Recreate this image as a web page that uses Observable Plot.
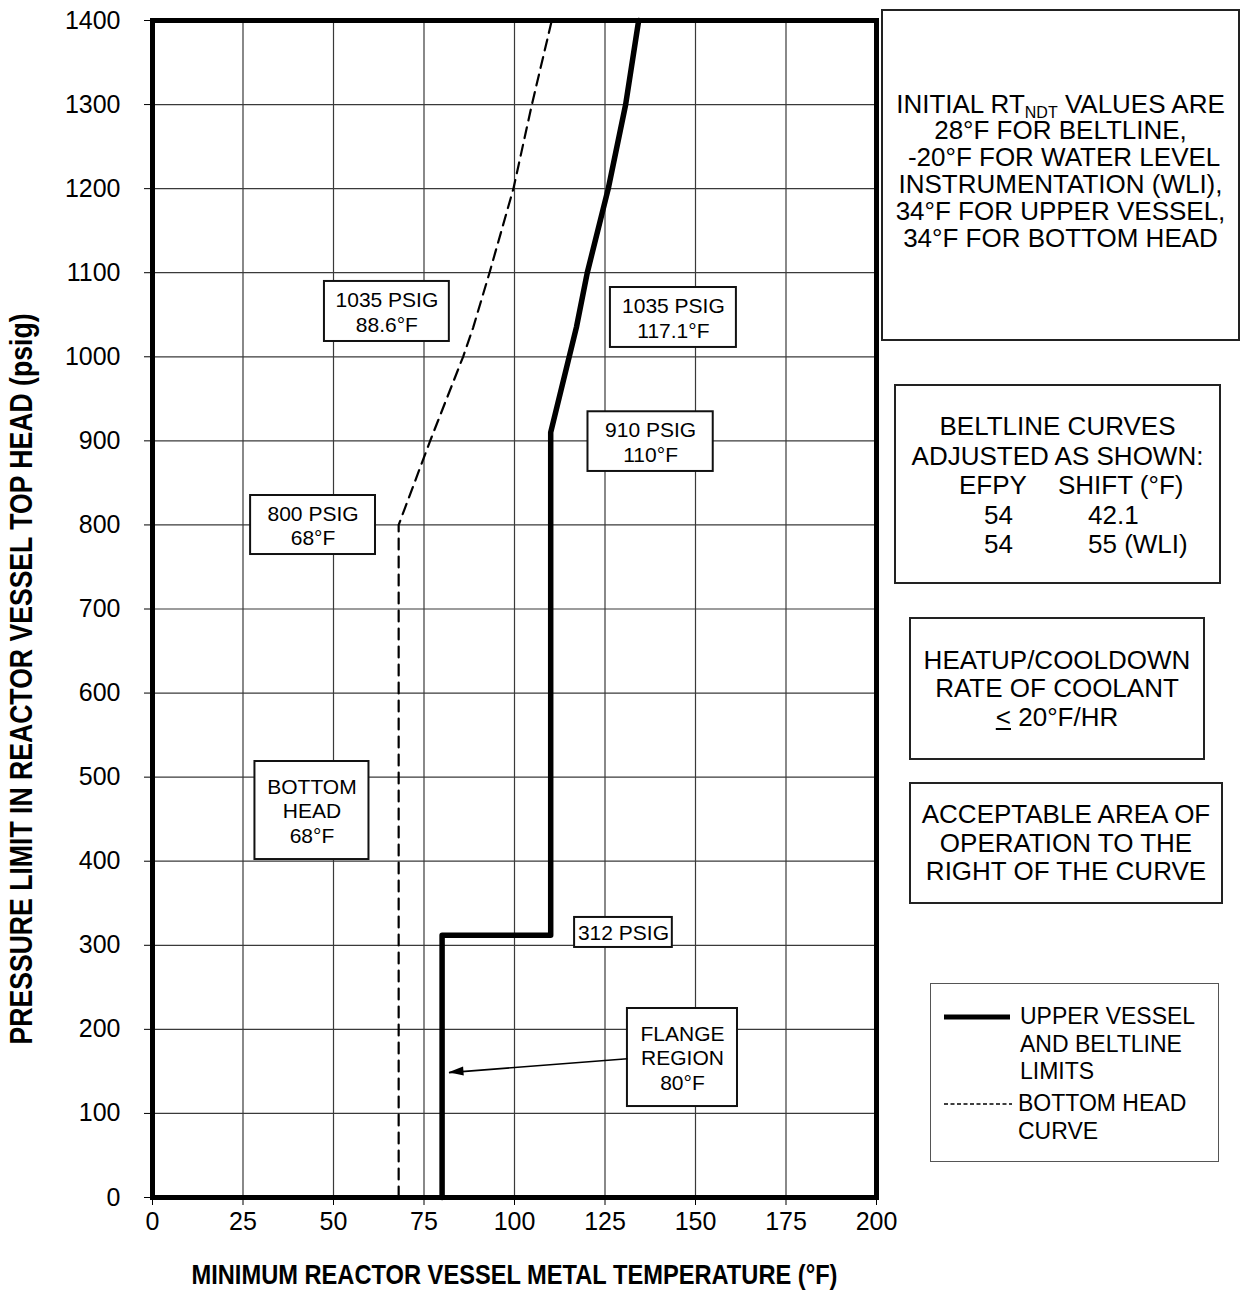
<!DOCTYPE html>
<html>
<head>
<meta charset="utf-8">
<script src="https://cdn.jsdelivr.net/npm/d3@7"></script>
<script src="https://cdn.jsdelivr.net/npm/@observablehq/plot@0.6"></script>
<style>
  html, body { margin: 0; padding: 0; background: #fff; }
  #wrap { position: relative; width: 1242px; height: 1314px; font-family: "Liberation Sans", Arial, sans-serif; color: #000; }
  #wrap svg { position: absolute; left: 0; top: 0; }
  .box { position: absolute; box-sizing: border-box; border: 2px solid #222; background: #fff; font-size: 26px; text-align: center; }
  .flex { display: flex; flex-direction: column; justify-content: center; }
  .row { position: relative; height: 29.5px; line-height: 29.5px; }
  .row span { position: absolute; top: 0; white-space: pre; }
  sub { font-size: 16px; vertical-align: -5px; line-height: 0; }
  .lg { position: absolute; font-size: 23px; line-height: 27.5px; white-space: pre; }
</style>
</head>
<body>
<div id="wrap"></div>
<script>
// Pressure–temperature limit curves (temperature in °F, pressure in psig)
const upperTemp = [80, 80, 110, 110, 117.1, 120.1, 125.9, 130.7, 134.3];
const upperPsig = [0, 312, 312, 910, 1035, 1100, 1200, 1300, 1400];

const bottomTemp = [68, 68, 76.7, 85.8, 88.6, 93.1, 99.7, 104.8, 110.3];
const bottomPsig = [0, 800, 900, 1000, 1035, 1100, 1200, 1300, 1400];

const xTicks = [0, 25, 50, 75, 100, 125, 150, 175, 200];
const yTicks = [0, 100, 200, 300, 400, 500, 600, 700, 800, 900, 1000, 1100, 1200, 1300, 1400];

const xTitle = "MINIMUM REACTOR VESSEL METAL TEMPERATURE (°F)";
const yTitle = "PRESSURE LIMIT IN REACTOR VESSEL TOP HEAD (psig)";

// Callout boxes placed in chart coordinates
const notes = [
  {text: "1035 PSIG\n88.6°F", x1: 47.5, x2: 82.0, y1: 1018.2, y2: 1089.6},
  {text: "1035 PSIG\n117.1°F", x1: 126.5, x2: 161.3, y1: 1011.1, y2: 1082.4},
  {text: "910 PSIG\n110°F", x1: 120.3, x2: 154.9, y1: 863.6, y2: 934.6},
  {text: "800 PSIG\n68°F", x1: 27.1, x2: 61.6, y1: 764.8, y2: 835.0},
  {text: "BOTTOM\nHEAD\n68°F", x1: 28.3, x2: 59.8, y1: 402.0, y2: 518.6},
  {text: "312 PSIG", x1: 116.6, x2: 143.6, y1: 297.4, y2: 333.1},
  {text: "FLANGE\nREGION\n80°F", x1: 131.2, x2: 161.6, y1: 108.2, y2: 224.8}
];
const flangeArrow = {x1: 131.2, y1: 165, x2: 81.9, y2: 148.5};

const upper = upperTemp.map((t, i) => ({t, p: upperPsig[i]}));
const bottom = bottomTemp.map((t, i) => ({t, p: bottomPsig[i]}));

const W = 1242, H = 1314, ML = 152, MR = 366, MT = 20, MB = 117;
const titleFont = "'Liberation Sans', Arial, sans-serif";

const chart = Plot.plot({
  width: W, height: H,
  marginLeft: ML, marginRight: MR, marginTop: MT, marginBottom: MB,
  style: {fontFamily: "'Liberation Sans', Arial, sans-serif", fontSize: "25px", color: "#000", background: "transparent", overflow: "visible"},
  x: {domain: [0, 200], ticks: xTicks, tickSize: 8, tickPadding: 7, tickFormat: d => `${d}`, label: null},
  y: {domain: [0, 1400], ticks: yTicks, tickSize: 8, tickPadding: 24, tickFormat: d => `${d}`, label: null},
  marks: [
    Plot.ruleX(xTicks.slice(1, -1), {stroke: "#3a3a3a", strokeWidth: 1.2}),
    Plot.ruleY(yTicks.slice(1, -1), {stroke: "#3a3a3a", strokeWidth: 1.2}),
    Plot.line(bottom, {x: "t", y: "p", stroke: "#000", strokeWidth: 2.2, strokeDasharray: "11,7"}),
    Plot.line(upper, {x: "t", y: "p", stroke: "#000", strokeWidth: 5.5, strokeLinejoin: "round", strokeLinecap: "round"}),
    Plot.frame({stroke: "#000", strokeWidth: 5}),
    Plot.rect(notes, {x1: "x1", x2: "x2", y1: "y1", y2: "y2", fill: "#fff", stroke: "#111", strokeWidth: 2}),
    Plot.text(notes, {
      x: d => (d.x1 + d.x2) / 2, y: d => (d.y1 + d.y2) / 2, text: "text",
      fontSize: 21, lineHeight: 1.17, lineAnchor: "middle", textAnchor: "middle", fill: "#000"
    }),
    Plot.link([flangeArrow], {x1: "x1", y1: "y1", x2: "x2", y2: "y2", stroke: "#000", strokeWidth: 1.6}),
    Plot.text([xTitle], {
      frameAnchor: "bottom", dy: 78, lineAnchor: "middle", textAnchor: "middle",
      fontFamily: titleFont, fontWeight: "bold", fontSize: 28
    }),
    Plot.text([yTitle], {
      frameAnchor: "left", dx: -130, dy: 70, rotate: -90, lineAnchor: "middle", textAnchor: "middle",
      fontFamily: titleFont, fontWeight: "bold", fontSize: 31
    })
  ]
});

// Axis titles are set in a condensed bold face: squeeze them to their run length
d3.select(chart).selectAll("text").each(function () {
  const s = this.textContent;
  if (s === xTitle) this.setAttribute("textLength", 646);
  if (s === yTitle) this.setAttribute("textLength", 731);
  if (s === xTitle || s === yTitle) this.setAttribute("lengthAdjust", "spacingAndGlyphs");
});

// Filled arrowhead at the end of the flange callout line
(function () {
  let sx, sy;
  try { sx = chart.scale("x"); sy = chart.scale("y"); } catch (e) {}
  const fx = sx && sx.apply ? v => sx.apply(v) : d3.scaleLinear([0, 200], [ML, W - MR]);
  const fy = sy && sy.apply ? v => sy.apply(v) : d3.scaleLinear([0, 1400], [H - MB, MT]);
  const ax = fx(flangeArrow.x2), ay = fy(flangeArrow.y2);
  const bx = fx(flangeArrow.x1), by = fy(flangeArrow.y1);
  const ang = Math.atan2(ay - by, ax - bx);
  const L = 15, Wd = 4.5;
  const cx = ax - L * Math.cos(ang), cy = ay - L * Math.sin(ang);
  const pts = [[ax, ay],
    [cx + Wd * Math.sin(ang), cy - Wd * Math.cos(ang)],
    [cx - Wd * Math.sin(ang), cy + Wd * Math.cos(ang)]];
  d3.select(chart).append("polygon")
    .attr("points", pts.map(p => p.join(",")).join(" "))
    .attr("fill", "#000");
})();

const wrap = document.getElementById("wrap");
wrap.appendChild(chart);

// Side notes and legend
wrap.insertAdjacentHTML("beforeend", `
  <div class="box flex" style="left:881px;top:9px;width:359px;height:332px;line-height:26.8px;padding-bottom:8px;">
    <div>INITIAL RT<sub>NDT</sub> VALUES ARE</div>
    <div>28°F FOR BELTLINE,</div>
    <div style="white-space:pre"> -20°F FOR WATER LEVEL</div>
    <div>INSTRUMENTATION (WLI),</div>
    <div>34°F FOR UPPER VESSEL,</div>
    <div>34°F FOR BOTTOM HEAD</div>
  </div>
  <div class="box" style="left:894px;top:384px;width:327px;height:200px;padding-top:26px;">
    <div class="row">BELTLINE CURVES</div>
    <div class="row">ADJUSTED AS SHOWN:</div>
    <div class="row"><span style="left:63px">EFPY</span><span style="left:162px">SHIFT (°F)</span></div>
    <div class="row"><span style="left:88px">54</span><span style="left:192px">42.1</span></div>
    <div class="row"><span style="left:88px">54</span><span style="left:192px">55 (WLI)</span></div>
  </div>
  <div class="box flex" style="left:909px;top:617px;width:296px;height:143px;line-height:28.5px;">
    <div>HEATUP/COOLDOWN</div>
    <div>RATE OF COOLANT</div>
    <div><span style="text-decoration:underline">&lt;</span> 20°F/HR</div>
  </div>
  <div class="box flex" style="left:909px;top:782px;width:314px;height:122px;line-height:28.5px;">
    <div>ACCEPTABLE AREA OF</div>
    <div>OPERATION TO THE</div>
    <div>RIGHT OF THE CURVE</div>
  </div>
  <div class="box" style="left:930px;top:983px;width:289px;height:179px;border:1.5px solid #555;">
    <svg width="289" height="179" style="position:absolute;left:-1.5px;top:-1.5px">
      <line x1="14" x2="80" y1="34" y2="34" stroke="#000" stroke-width="5"/>
      <line x1="14" x2="82" y1="121" y2="121" stroke="#000" stroke-width="1.5" stroke-dasharray="4,2.5"/>
    </svg>
    <div class="lg" style="left:89px;top:19px;text-align:left">UPPER VESSEL
AND BELTLINE
LIMITS</div>
    <div class="lg" style="left:87px;top:106px;text-align:left">BOTTOM HEAD
CURVE</div>
  </div>
`);
</script>
</body>
</html>
